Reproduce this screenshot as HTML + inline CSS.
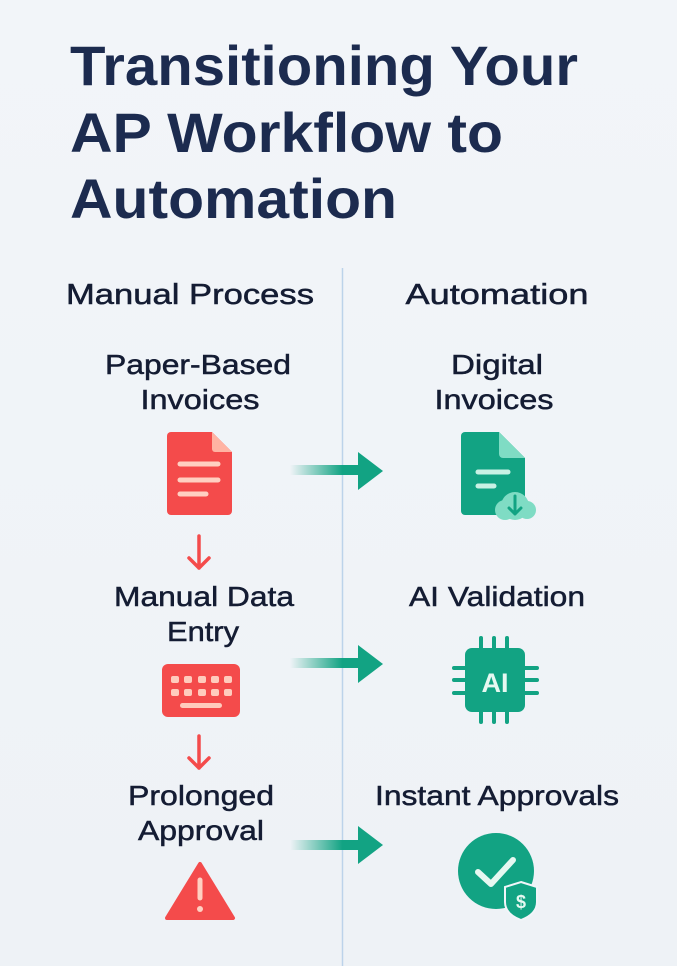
<!DOCTYPE html>
<html><head><meta charset="utf-8"><style>
html,body{margin:0;padding:0;background:#f1f5f9;}
svg{display:block}
text{font-family:"Liberation Sans",sans-serif;}
</style></head><body>
<svg width="677" height="966" viewBox="0 0 677 966" xmlns="http://www.w3.org/2000/svg">
<defs>
<linearGradient id="bg" x1="0" y1="0" x2="0" y2="1"><stop offset="0" stop-color="#f2f5f9"/><stop offset="1" stop-color="#eef2f6"/></linearGradient>
<linearGradient id="ar" x1="0" y1="0" x2="1" y2="0"><stop offset="0" stop-color="#12a383" stop-opacity="0"/><stop offset="0.75" stop-color="#12a383"/><stop offset="1" stop-color="#12a383"/></linearGradient>
</defs>
<rect width="677" height="966" fill="url(#bg)"/>
<g fill="#1c2b4f" font-weight="bold" font-size="56">
<text x="70" y="85" textLength="508" lengthAdjust="spacingAndGlyphs">Transitioning Your</text>
<text x="70" y="152" textLength="433" lengthAdjust="spacingAndGlyphs">AP Workflow to</text>
<text x="70" y="218" textLength="327" lengthAdjust="spacingAndGlyphs">Automation</text>
</g>
<line x1="342.5" y1="268" x2="342.5" y2="966" stroke="#bcd3ea" stroke-width="1.5"/>
<g fill="#141c33" stroke="#141c33" stroke-width="0.5" font-size="29" text-anchor="middle">
<text x="190" y="304" textLength="248" lengthAdjust="spacingAndGlyphs">Manual Process</text>
<text x="497" y="304" textLength="183" lengthAdjust="spacingAndGlyphs">Automation</text>
</g>
<g fill="#141c33" stroke="#141c33" stroke-width="0.5" font-size="28" text-anchor="middle">
<text x="198" y="374" textLength="186" lengthAdjust="spacingAndGlyphs">Paper-Based</text>
<text x="200" y="409" textLength="119" lengthAdjust="spacingAndGlyphs">Invoices</text>
<text x="204" y="606" textLength="180" lengthAdjust="spacingAndGlyphs">Manual Data</text>
<text x="203" y="641" textLength="72" lengthAdjust="spacingAndGlyphs">Entry</text>
<text x="201" y="805" textLength="146" lengthAdjust="spacingAndGlyphs">Prolonged</text>
<text x="201" y="840" textLength="126" lengthAdjust="spacingAndGlyphs">Approval</text>
<text x="497" y="374" textLength="92" lengthAdjust="spacingAndGlyphs">Digital</text>
<text x="494" y="409" textLength="119" lengthAdjust="spacingAndGlyphs">Invoices</text>
<text x="497" y="606" textLength="176" lengthAdjust="spacingAndGlyphs">AI Validation</text>
<text x="497" y="805" textLength="244" lengthAdjust="spacingAndGlyphs">Instant Approvals</text>
</g>
<path d="M171 432 H212 L232 452 V511 a4 4 0 0 1 -4 4 H171 a4 4 0 0 1 -4 -4 V436 a4 4 0 0 1 4 -4Z" fill="#f44b4b"/>
<path d="M212 432 L232 452 H215 a3 3 0 0 1 -3 -3Z" fill="#ffb3a3"/>
<g stroke="#ffd0c2" stroke-width="5" stroke-linecap="round">
<line x1="180" y1="464" x2="218" y2="464"/><line x1="180" y1="480" x2="218" y2="480"/><line x1="180" y1="494" x2="206" y2="494"/></g>
<g stroke="#f44b4b" stroke-width="3.5" fill="none" stroke-linecap="round" stroke-linejoin="round">
<path d="M199 536 V568 M189 558 L199 568 L209 558"/>
<path d="M199 736 V768 M189 758 L199 768 L209 758"/></g>
<rect x="162" y="664" width="78" height="53" rx="6" fill="#f44b4b"/>
<g fill="#ffcbbd">
<rect x="171" y="676" width="8" height="7" rx="2"/><rect x="184" y="676" width="8" height="7" rx="2"/><rect x="198" y="676" width="8" height="7" rx="2"/><rect x="211" y="676" width="8" height="7" rx="2"/><rect x="224" y="676" width="8" height="7" rx="2"/>
<rect x="171" y="689" width="8" height="7" rx="2"/><rect x="184" y="689" width="8" height="7" rx="2"/><rect x="198" y="689" width="8" height="7" rx="2"/><rect x="211" y="689" width="8" height="7" rx="2"/><rect x="224" y="689" width="8" height="7" rx="2"/>
<rect x="180" y="703" width="42" height="5" rx="2.5"/></g>
<path d="M200 864 L233 918 H167 Z" fill="#f44b4b" stroke="#f44b4b" stroke-width="4" stroke-linejoin="round"/>
<line x1="200" y1="880" x2="200" y2="898" stroke="#ffd0c2" stroke-width="5" stroke-linecap="round"/>
<circle cx="200" cy="909" r="3" fill="#ffd0c2"/>
<g fill="url(#ar)"><rect x="290" y="465" width="70" height="10"/><rect x="290" y="658" width="70" height="10"/><rect x="290" y="840" width="70" height="10"/></g>
<g fill="#12a383"><path d="M358 452 L383 471 L358 490Z"/><path d="M358 645 L383 664 L358 683Z"/><path d="M358 826 L383 845 L358 864Z"/></g>
<path d="M465 432 H499 L525 458 V511 a4 4 0 0 1 -4 4 H465 a4 4 0 0 1 -4 -4 V436 a4 4 0 0 1 4 -4Z" fill="#12a383"/>
<path d="M499 432 L525 458 H503 a4 4 0 0 1 -4 -4Z" fill="#7fdcc4"/>
<g stroke="#c8f1e4" stroke-width="5" stroke-linecap="round"><line x1="478" y1="472" x2="508" y2="472"/><line x1="478" y1="486" x2="494" y2="486"/></g>
<circle cx="515" cy="506" r="14" fill="#7fdcc4"/><circle cx="505" cy="510" r="10" fill="#7fdcc4"/><circle cx="527" cy="510" r="9" fill="#7fdcc4"/>
<path d="M515 496 V514 M509 508 L515 514 L521 508" stroke="#12a383" stroke-width="3" fill="none" stroke-linecap="round" stroke-linejoin="round"/>
<g stroke="#12a383" stroke-width="4" stroke-linecap="round">
<line x1="481" y1="638" x2="481" y2="650"/><line x1="494" y1="638" x2="494" y2="650"/><line x1="507" y1="638" x2="507" y2="650"/>
<line x1="481" y1="710" x2="481" y2="722"/><line x1="494" y1="710" x2="494" y2="722"/><line x1="507" y1="710" x2="507" y2="722"/>
<line x1="454" y1="668" x2="466" y2="668"/><line x1="454" y1="680" x2="466" y2="680"/><line x1="454" y1="693" x2="466" y2="693"/>
<line x1="525" y1="668" x2="537" y2="668"/><line x1="525" y1="680" x2="537" y2="680"/><line x1="525" y1="693" x2="537" y2="693"/></g>
<rect x="465" y="648" width="60" height="64" rx="7" fill="#12a383"/>
<text x="495" y="692" font-size="27" font-weight="bold" fill="#e6f8f1" text-anchor="middle">AI</text>
<circle cx="496" cy="871" r="38" fill="#12a383"/>
<path d="M478 872 L491 884 L513 860" stroke="#e6f8f1" stroke-width="6" fill="none" stroke-linecap="round" stroke-linejoin="round"/>
<path d="M521 882 L537 887 V902 Q537 914 521 920 Q505 914 505 902 V887Z" fill="#12a383" stroke="#f1f5f9" stroke-width="2"/>
<text x="521" y="908" font-size="18" font-weight="bold" fill="#e6f8f1" text-anchor="middle">$</text>
</svg>
</body></html>
